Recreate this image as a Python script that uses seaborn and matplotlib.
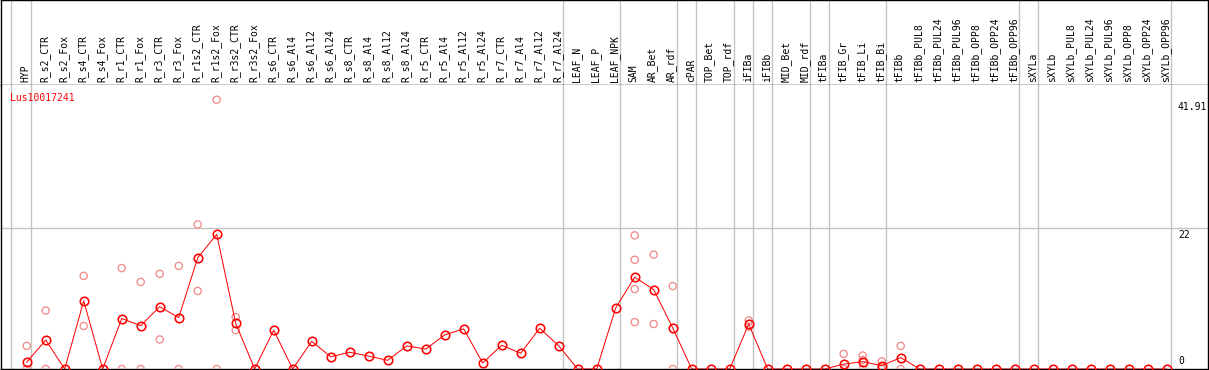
import seaborn as sns
import matplotlib.pyplot as plt
import matplotlib.transforms as mtransforms
import pandas as pd
import numpy as np

# data
gene = 'Lus10017241'
categories = ['HYP', 'R_s2_CTR', 'R_s2_Fox', 'R_s4_CTR', 'R_s4_Fox', 'R_r1_CTR', 'R_r1_Fox',
              'R_r3_CTR', 'R_r3_Fox', 'R_r1s2_CTR', 'R_r1s2_Fox', 'R_r3s2_CTR', 'R_r3s2_Fox',
              'R_s6_CTR', 'R_s6_Al4', 'R_s6_Al12', 'R_s6_Al24', 'R_s8_CTR', 'R_s8_Al4',
              'R_s8_Al12', 'R_s8_Al24', 'R_r5_CTR', 'R_r5_Al4', 'R_r5_Al12', 'R_r5_Al24',
              'R_r7_CTR', 'R_r7_Al4', 'R_r7_Al12', 'R_r7_Al24', 'LEAF_N', 'LEAF_P', 'LEAF_NPK',
              'SAM', 'AR_Bet', 'AR_rdf', 'cPAR', 'TOP_Bet', 'TOP_rdf', 'iFIBa', 'iFIBb',
              'MID_Bet', 'MID_rdf', 'tFIBa', 'tFIB_Gr', 'tFIB_Li', 'tFIB_Bi', 'tFIBb',
              'tFIBb_PUL8', 'tFIBb_PUL24', 'tFIBb_PUL96', 'tFIBb_OPP8', 'tFIBb_OPP24',
              'tFIBb_OPP96', 'sXYLa', 'sXYLb', 'sXYLb_PUL8', 'sXYLb_PUL24', 'sXYLb_PUL96',
              'sXYLb_OPP8', 'sXYLb_OPP24', 'sXYLb_OPP96']
mean_values = [1.05, 4.5, 0, 10.6, 0, 7.85, 6.75, 9.7, 8.0, 17.3, 20.96, 7.1, 0,
               6.05, 0, 4.3, 1.9, 2.6, 2.0, 1.35, 3.6, 3.1, 5.3, 6.25, 0.94,
               3.7, 2.45, 6.35, 3.6, 0, 0, 9.5,
               14.3, 12.35, 6.4, 0, 0, 0, 7.0, 0,
               0, 0, 0, 0.75, 1.15, 0.52, 1.77,
               0, 0, 0, 0, 0, 0, 0, 0, 0, 0, 0, 0, 0, 0]
replicate_values = {
    'HYP': [3.6, 0], 'R_s2_CTR': [9.1, 0], 'R_s4_CTR': [14.5, 6.7], 'R_r1_CTR': [15.7, 0],
    'R_r1_Fox': [13.55, 0], 'R_r3_CTR': [14.8, 4.6], 'R_r3_Fox': [16.05, 0],
    'R_r1s2_CTR': [22.5, 12.15], 'R_r1s2_Fox': [41.91, 0], 'R_r3s2_CTR': [8.1, 6.05],
    'SAM': [20.8, 17.0, 12.45, 7.3], 'AR_Bet': [17.8, 7.0], 'AR_rdf': [12.9, 0],
    'iFIBa': [7.55, 6.6], 'tFIB_Gr': [2.35, 0], 'tFIB_Li': [2.1, 1.4, 0],
    'tFIB_Bi': [1.2, 0.35, 0], 'tFIBb': [3.6, 0],
}
# last sample of each group (a grey separator follows it)
group_ends = ['HYP', 'R_r7_Al24', 'LEAF_NPK', 'AR_rdf', 'cPAR', 'TOP_rdf', 'iFIBa', 'iFIBb',
              'MID_rdf', 'tFIBa', 'tFIB_Bi', 'tFIBb_OPP96', 'sXYLa', 'sXYLb_OPP96']
y_marks = [0, 22, 41.91]

df_mean = pd.DataFrame({'pos': np.arange(len(categories)), 'value': mean_values})
rows = []
for name, vals in replicate_values.items():
    for v in vals:
        rows.append({'pos': categories.index(name), 'value': v})
df_rep = pd.DataFrame(rows)

W, H = 1209, 370
fig = plt.figure(figsize=(W / 100, H / 100), dpi=100)
px = 0.72  # one pixel in points

head_h = 85
ax_head = fig.add_axes([1 / W, (H - head_h) / H, 1207 / W, head_h / H])
ax = fig.add_axes([1 / W, 1 / H, 1207 / W, (head_h - 1 + H - head_h - 1 - 0) / H - head_h / H + 0 / H],
                  sharex=ax_head)
ax.set_position([1 / W, 1 / H, 1207 / W, (H - head_h - 1) / H])

x0 = 26.7
step = 19.0
xlim = ((1 - x0) / step, (1208 - x0) / step)
ymax = 44.2

grey = '#c3c3c3'
for a in (ax_head, ax):
    a.set_xlim(xlim)
    a.axvline((10.7 - x0) / step, color=grey, lw=1.4 * px, zorder=0)
    for name in group_ends:
        a.axvline(categories.index(name) + 0.21, color=grey, lw=1.4 * px, zorder=0)
    for s in a.spines.values():
        s.set_color('black')
        s.set_linewidth(1.4 * px)
    a.set_xticks([])
    a.set_yticks([])
    a.set_xlabel('')
    a.set_ylabel('')
ax_head.set_ylim(0, 1)
ax.spines['top'].set_visible(False)
ax.set_ylim(0, ymax)
ax.axhline(22, color=grey, lw=1.4 * px, zorder=0)

sns.scatterplot(data=df_rep, x='pos', y='value', ax=ax, marker='o', s=(7.2 * px) ** 2,
                facecolors='none', edgecolor='#f08a8a', linewidth=1.3 * px, zorder=3,
                legend=False)
sns.lineplot(data=df_mean, x='pos', y='value', ax=ax, color='red', linewidth=1.0 * px,
             marker='o', markersize=8.5 * px, markerfacecolor='none', markeredgecolor='red',
             markeredgewidth=1.6 * px, zorder=4, legend=False)
for c in ax.collections + ax.lines:
    c.set_clip_on(True)
ax.set_xlabel('')
ax.set_ylabel('')
ax.set_xticks([])
ax.set_yticks([])

mono = 'DejaVu Sans Mono'
trans = mtransforms.blended_transform_factory(ax_head.transData, ax_head.transAxes)
for i, name in enumerate(categories):
    ax_head.text(i - 0.05, 2.5 / head_h, name, rotation=90, ha='center', va='bottom',
                 fontsize=7, family=mono, transform=trans)

ax.text(9 / 1207, 1 - 13 / (H - head_h - 1), gene, color='red', fontsize=7, family=mono,
        ha='left', va='center', transform=ax.transAxes)

ytrans = mtransforms.blended_transform_factory(ax.transAxes, ax.transData)
lx = (1178 - 1) / 1207
ax.text(lx, y_marks[2] - 0.4, f'{y_marks[2]:g}', fontsize=7, family=mono, ha='left', va='top',
        transform=ytrans)
ax.text(lx, y_marks[1] - 0.3, f'{y_marks[1]:g}', fontsize=7, family=mono, ha='left', va='top',
        transform=ytrans)
ax.text(lx, y_marks[0] + 0.5, f'{y_marks[0]:g}', fontsize=7, family=mono, ha='left', va='bottom',
        transform=ytrans)

fig.savefig('out.png', dpi=100, facecolor='white')
